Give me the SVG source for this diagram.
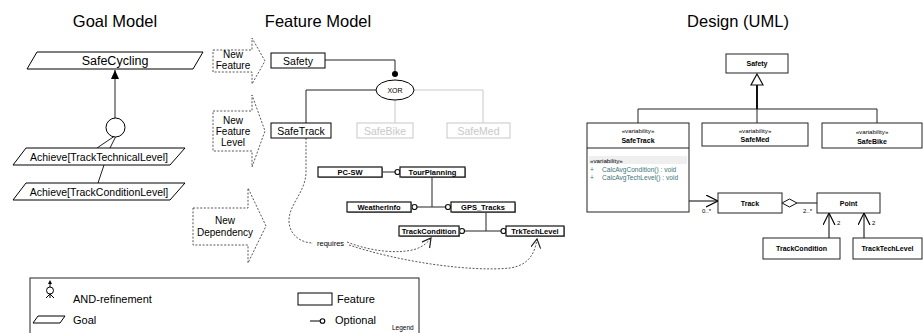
<svg xmlns="http://www.w3.org/2000/svg" width="923" height="333" viewBox="0 0 923 333">
<style>
text{font-family:"Liberation Sans",Arial,sans-serif;fill:#000}
.title{font-size:16.5px}
.goal{fill:#fff;stroke:#000;stroke-width:1}
.dot{fill:none;stroke:#444;stroke-width:0.9;stroke-dasharray:2,1.6}
.fbox{fill:#fff;stroke:#000;stroke-width:1}
.gbox{fill:#fff;stroke:#c8c8c8;stroke-width:1}
.ln{fill:none;stroke:#222;stroke-width:1}
.gln{fill:none;stroke:#c8c8c8;stroke-width:1}
.sbox{fill:#fff;stroke:#111;stroke-width:1.2}
.shadow{fill:#999}
.opt{fill:#fff;stroke:#111;stroke-width:1.2}
.uml{fill:#fff;stroke:#222;stroke-width:1}
.ft{font-size:10.5px}
.fb{font-size:7.5px;font-weight:bold}
.st{font-size:6.2px}
.ub{font-size:7px;font-weight:bold}
.meth{font-size:6.6px;fill:#3d7676}
.lt{font-size:11px}
</style>
<defs>
<marker id="fill" markerWidth="10" markerHeight="10" refX="9" refY="4" orient="auto" markerUnits="userSpaceOnUse">
<path d="M0,0 L9,4 L0,8 Z" fill="#000"/>
</marker>
<marker id="open" markerWidth="14" markerHeight="14" refX="12" refY="6" orient="auto" markerUnits="userSpaceOnUse">
<path d="M0,0 L12,6 L0,12" fill="none" stroke="#000" stroke-width="1.2"/>
</marker>
<marker id="dopen" markerWidth="12" markerHeight="12" refX="9" refY="5" orient="auto" markerUnits="userSpaceOnUse">
<path d="M0,0 L9,5 L0,10" fill="none" stroke="#222" stroke-width="1.2"/>
</marker>
</defs>

<g id="titles">
<text class="title" x="115" y="27" text-anchor="middle">Goal Model</text>
<text class="title" x="318" y="27" text-anchor="middle">Feature Model</text>
<text class="title" x="738" y="27" text-anchor="middle">Design (UML)</text>
</g>

<!-- Goal model -->
<g id="connectors-goal">
<line class="ln" x1="115" y1="118" x2="115" y2="70" stroke="#000" marker-end="url(#fill)"/>
<line class="ln" x1="114" y1="136.5" x2="97" y2="148"/>
<line class="ln" x1="115.5" y1="137" x2="110" y2="148"/>
<line class="ln" x1="104" y1="165" x2="98" y2="183"/>
</g>
<g id="goal-safecycling">
<polygon class="goal" points="37,52 203,52 193,69 27,69"/>
<text x="115" y="65" text-anchor="middle" font-size="12.5">SafeCycling</text>
</g>
<g id="goal-and">
<circle cx="115.5" cy="127.5" r="9.5" fill="#fff" stroke="#000"/>
</g>
<g id="goal-tech">
<polygon class="goal" points="26,148 185,148 170,165 13,165"/>
<text x="99" y="160.5" text-anchor="middle" font-size="10.5">Achieve[TrackTechnicalLevel]</text>
</g>
<g id="goal-cond">
<polygon class="goal" points="26,183 185,183 170,200 13,200"/>
<text x="99" y="195.5" text-anchor="middle" font-size="10.5">Achieve[TrackConditionLevel]</text>
</g>

<!-- Dotted block arrows -->
<g id="arrow-new-feature">
<path class="dot" d="M213,50 L252,50 L252,38 L265,61 L252,84 L252,72 L213,72 Z"/>
<text x="233" y="58" text-anchor="middle" font-size="10">New</text>
<text x="233" y="69" text-anchor="middle" font-size="10">Feature</text>
</g>
<g id="arrow-new-feature-level">
<path class="dot" d="M213,111 L252,111 L252,95 L265,131 L252,167 L252,151 L213,151 Z"/>
<text x="233" y="124" text-anchor="middle" font-size="10">New</text>
<text x="233" y="135" text-anchor="middle" font-size="10">Feature</text>
<text x="233" y="146" text-anchor="middle" font-size="10">Level</text>
</g>
<g id="arrow-new-dependency">
<path class="dot" d="M193,208 L248,208 L248,188 L266,226 L248,263 L248,245 L193,245 Z"/>
<text x="225" y="224" text-anchor="middle" font-size="10">New</text>
<text x="225" y="236" text-anchor="middle" font-size="10">Dependency</text>
</g>

<!-- Feature model connectors -->
<g id="connectors-feature">
<path class="ln" d="M325,60 L395,60 L395,73"/>
<circle cx="395" cy="74" r="3" fill="#000"/>
<path class="ln" d="M376,90 L306,90 L306,123"/>
<path class="gln" d="M413,90 L483,90 L483,123"/>
<path class="gln" d="M395,100 L395,123"/>
<path class="ln" d="M382,172 L395,172"/>
<path class="ln" d="M432,177 L432,207"/>
<path class="ln" d="M417,207 L445,207"/>
<path class="ln" d="M486,212 L486,231"/>
<path class="ln" d="M462,231 L503,231"/>
<circle class="opt" cx="397.5" cy="172" r="2.5"/>
<circle class="opt" cx="414.5" cy="207" r="2.5"/>
<circle class="opt" cx="448" cy="207" r="2.5"/>
<circle class="opt" cx="462" cy="231" r="2.5"/>
<circle class="opt" cx="503.5" cy="231" r="2.5"/>
<path class="dot" d="M306,138 L306,172 C306,192 288,205 289,222 C290,236 302,243 313,243"/>
<path class="dot" d="M347,242 C372,252 400,254 416,249 C424,246 428,242 431,238" marker-end="url(#dopen)"/>
<path class="dot" d="M349,245 C400,262 470,272 510,268 C530,265 535,252 537,239" marker-end="url(#dopen)"/>
<text x="317" y="245.5" font-size="7.5" fill="#333">requires</text>
</g>

<g id="f-safety">
<rect class="fbox" x="271" y="53" width="54" height="15"/>
<text class="ft" x="298" y="64.5" text-anchor="middle">Safety</text>
</g>
<g id="f-xor">
<ellipse cx="395" cy="90" rx="19" ry="10" fill="#fff" stroke="#000"/>
<text x="395" y="93" text-anchor="middle" font-size="7">XOR</text>
</g>
<g id="f-safetrack">
<rect class="fbox" x="271" y="123" width="60" height="15"/>
<text class="ft" x="301" y="134.5" text-anchor="middle">SafeTrack</text>
</g>
<g id="f-safebike">
<rect class="gbox" x="357" y="123" width="56" height="15"/>
<text class="ft" x="385" y="134.5" text-anchor="middle" style="fill:#c8c8c8">SafeBike</text>
</g>
<g id="f-safemed">
<rect class="gbox" x="447" y="123" width="63" height="15"/>
<text class="ft" x="478.5" y="134.5" text-anchor="middle" style="fill:#c8c8c8">SafeMed</text>
</g>
<g id="f-pcsw">
<rect class="shadow" x="319" y="168" width="64" height="10"/>
<rect class="sbox" x="318" y="167" width="64" height="10"/>
<text class="fb" x="350" y="174.8" text-anchor="middle">PC-SW</text>
</g>
<g id="f-tourplanning">
<rect class="shadow" x="401" y="168" width="65" height="10"/>
<rect class="sbox" x="400" y="167" width="65" height="10"/>
<text class="fb" x="432.5" y="174.8" text-anchor="middle">TourPlanning</text>
</g>
<g id="f-weatherinfo">
<rect class="shadow" x="348" y="203" width="64" height="10"/>
<rect class="sbox" x="347" y="202" width="64" height="10"/>
<text class="fb" x="379" y="209.8" text-anchor="middle">WeatherInfo</text>
</g>
<g id="f-gpstracks">
<rect class="shadow" x="452" y="203" width="64" height="10"/>
<rect class="sbox" x="451" y="202" width="64" height="10"/>
<text class="fb" x="483" y="209.8" text-anchor="middle">GPS_Tracks</text>
</g>
<g id="f-trackcondition">
<rect class="shadow" x="400" y="227" width="60" height="10"/>
<rect class="sbox" x="399" y="226" width="60" height="10"/>
<text class="fb" x="429" y="233.8" text-anchor="middle">TrackCondition</text>
</g>
<g id="f-trktechlevel">
<rect class="shadow" x="507" y="227" width="58" height="10"/>
<rect class="sbox" x="506" y="226" width="58" height="10"/>
<text class="fb" x="535" y="233.8" text-anchor="middle">TrkTechLevel</text>
</g>

<!-- UML -->
<g id="connectors-uml">
<line x1="757" y1="85" x2="757" y2="109" stroke="#111" stroke-width="2"/>
<polygon points="757,74 763,85 751,85" fill="#fff" stroke="#111" stroke-width="1.2"/>
<path class="ln" d="M638,123 L638,109 L877,109 L877,123"/>
<path class="ln" d="M757,109 L757,123"/>
<line x1="689" y1="201" x2="718" y2="201" stroke="#000" stroke-width="1" marker-end="url(#open)"/>
<text x="702" y="213" font-size="6" fill="#444">0..*</text>
<polygon points="782,203 789.5,199 797,203 789.5,207" fill="#fff" stroke="#111"/>
<line x1="797" y1="203" x2="817" y2="203" stroke="#111"/>
<text x="803" y="213" font-size="6" fill="#444">2..*</text>
<line x1="829" y1="238" x2="829" y2="213" stroke="#000" marker-end="url(#open)"/>
<text x="837" y="225" font-size="6" fill="#444">2</text>
<line x1="864" y1="238" x2="864" y2="213" stroke="#000" marker-end="url(#open)"/>
<text x="872" y="225" font-size="6" fill="#444">2</text>
</g>
<g id="u-safety">
<rect class="uml" x="726" y="54" width="62" height="19"/>
<text class="ub" x="757" y="66" text-anchor="middle">Safety</text>
</g>
<g id="u-safetrack">
<rect class="uml" x="587" y="123" width="102" height="89"/>
<line x1="587" y1="148" x2="689" y2="148" stroke="#222"/>
<rect x="589" y="156" width="98" height="8" fill="#efefef"/>
<text class="st" x="638" y="132.5" text-anchor="middle">«variability»</text>
<text class="ub" x="638" y="143" text-anchor="middle">SafeTrack</text>
<text class="st" x="590" y="162.5">«variability»</text>
<text class="meth" x="590" y="171.5">+</text>
<text class="meth" x="602" y="171.5">CalcAvgCondition() : void</text>
<text class="meth" x="590" y="180">+</text>
<text class="meth" x="602" y="180">CalcAvgTechLevel() : void</text>
</g>
<g id="u-safemed">
<rect class="uml" x="702" y="123" width="106" height="23"/>
<text class="st" x="755" y="132.5" text-anchor="middle">«variability»</text>
<text class="ub" x="755" y="142" text-anchor="middle">SafeMed</text>
</g>
<g id="u-safebike">
<rect class="uml" x="822" y="123" width="100" height="25"/>
<text class="st" x="872" y="133.5" text-anchor="middle">«variability»</text>
<text class="ub" x="872" y="143.5" text-anchor="middle">SafeBike</text>
</g>
<g id="u-track">
<rect class="uml" x="718" y="193" width="64" height="20"/>
<text class="ub" x="750" y="205.5" text-anchor="middle">Track</text>
</g>
<g id="u-point">
<rect class="uml" x="817" y="193" width="63" height="20"/>
<text class="ub" x="848.5" y="205.5" text-anchor="middle">Point</text>
</g>
<g id="u-trackcondition">
<rect class="uml" x="763" y="238" width="77" height="21"/>
<text class="ub" x="801.5" y="251" text-anchor="middle">TrackCondition</text>
</g>
<g id="u-tracktechlevel">
<rect class="uml" x="853" y="238" width="69" height="21"/>
<text class="ub" x="887.5" y="251" text-anchor="middle">TrackTechLevel</text>
</g>

<!-- Legend -->
<g id="legend">
<rect x="30" y="278" width="389" height="60" fill="none" stroke="#222"/>
<polygon points="50,280 52,284 48,284" fill="#000"/>
<line x1="50" y1="284" x2="50" y2="287" stroke="#000"/>
<circle cx="50" cy="290.5" r="3.5" fill="#fff" stroke="#000"/>
<path d="M50,294 L46,298 M50,294 L54,298 M50,294 L50,298" stroke="#000" fill="none"/>
<text class="lt" x="73" y="303">AND-refinement</text>
<polygon points="38,316 65,316 60,323 33,323" fill="#fff" stroke="#000"/>
<text class="lt" x="73" y="324">Goal</text>
<rect x="298" y="293" width="34" height="12" fill="#fff" stroke="#000"/>
<text class="lt" x="337" y="303">Feature</text>
<line x1="310" y1="321" x2="320" y2="321" stroke="#000"/>
<circle cx="322.5" cy="321" r="2.3" fill="#fff" stroke="#000" stroke-width="1.1"/>
<text class="lt" x="335" y="324">Optional</text>
<text x="392" y="330" font-size="6.5">Legend</text>
</g>
</svg>
